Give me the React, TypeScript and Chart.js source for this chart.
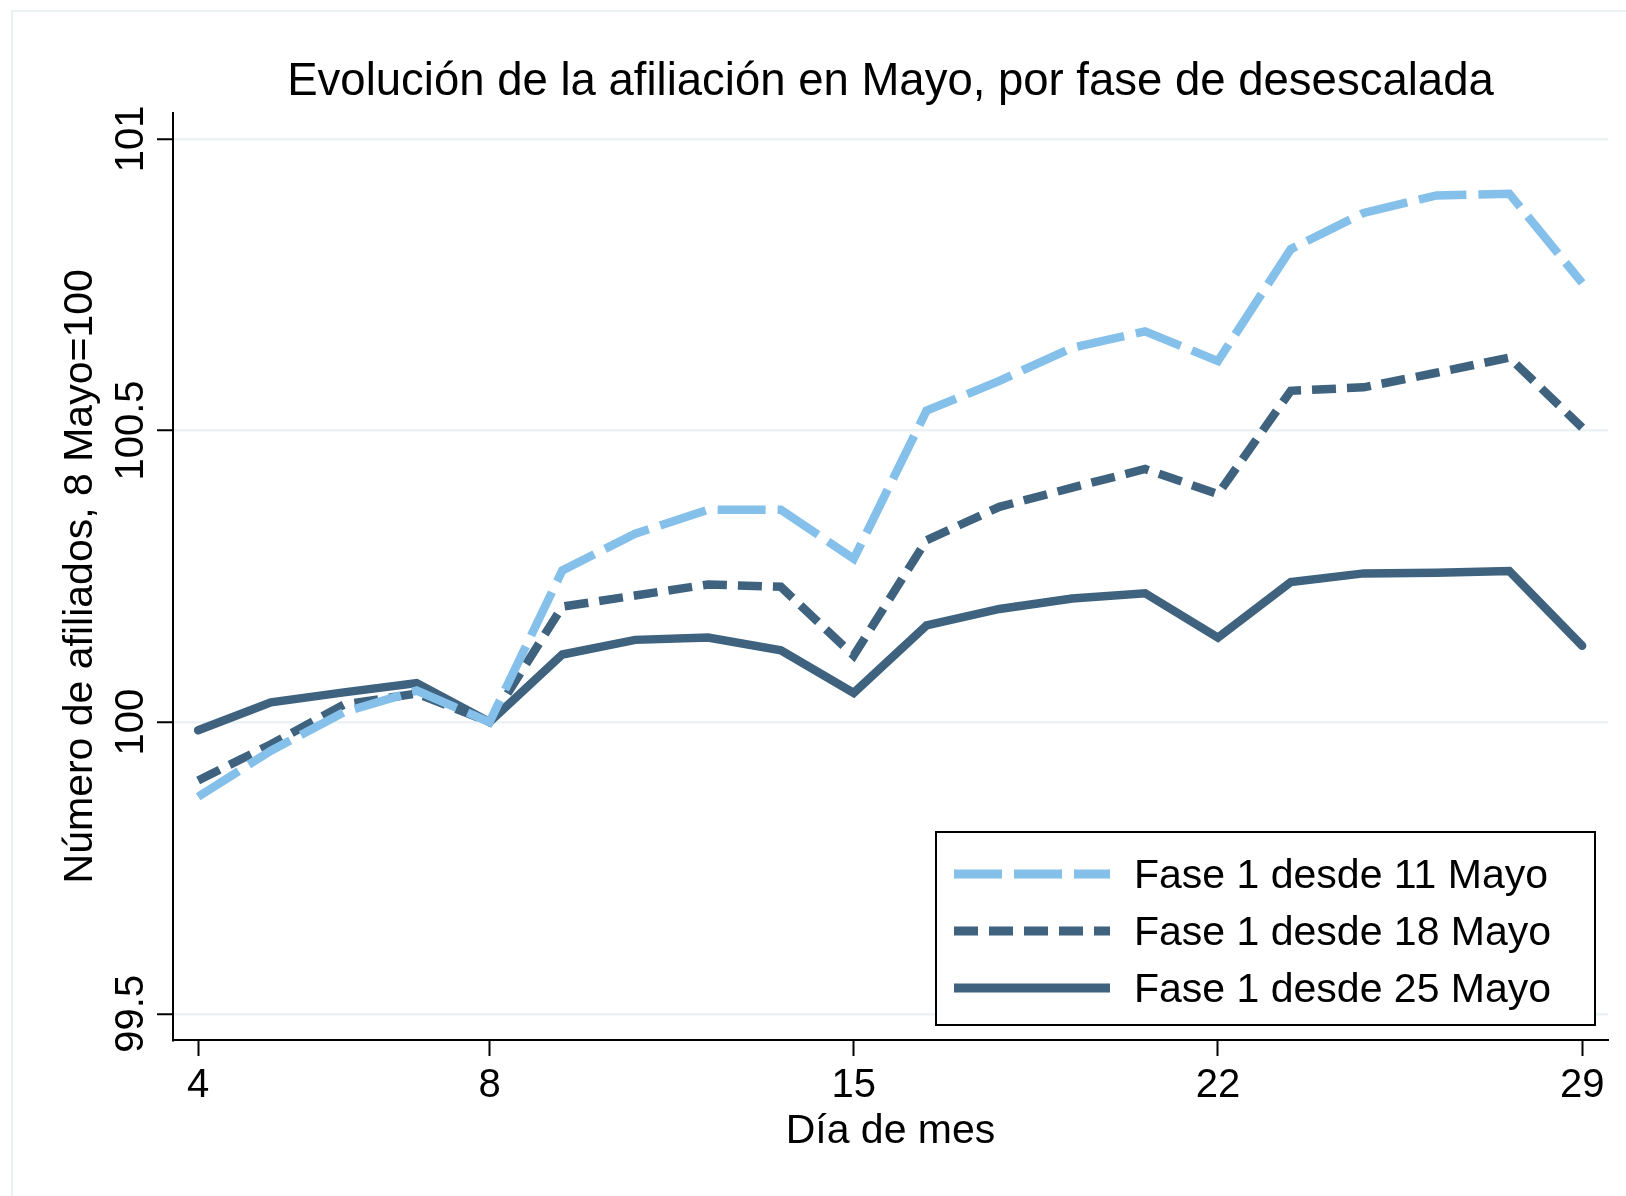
import React, { useEffect, useRef } from "react";
import { Chart, registerables } from "chart.js";

Chart.register(...registerables);

// ---- Data ----
const dayLabels = ["4", "5", "6", "7", "8", "11", "12", "13", "14", "15", "18", "19", "20", "21", "22", "25", "26", "27", "28", "29"];
const xTickIndices = [0, 4, 9, 14, 19];
const yTickValues = [99.5, 100, 100.5, 101];

const fase11 = [99.872, 99.951, 100.017, 100.054, 100.0, 100.26, 100.323, 100.364, 100.364, 100.28, 100.534, 100.585, 100.642, 100.67, 100.619, 100.811, 100.873, 100.903, 100.906, 100.753];
const fase18 = [99.9, 99.962, 100.03, 100.049, 100.0, 100.198, 100.217, 100.236, 100.232, 100.114, 100.312, 100.369, 100.402, 100.434, 100.391, 100.568, 100.574, 100.599, 100.625, 100.505];
const fase25 = [99.986, 100.034, 100.051, 100.067, 100.0, 100.116, 100.141, 100.145, 100.123, 100.05, 100.166, 100.194, 100.212, 100.221, 100.145, 100.24, 100.255, 100.256, 100.259, 100.131];

const seriesLabels = ["Fase 1 desde 11 Mayo", "Fase 1 desde 18 Mayo", "Fase 1 desde 25 Mayo"];

const titleText = "Evolución de la afiliación en Mayo, por fase de desescalada";
const xTitle = "Día de mes";
const yTitle = "Número de afiliados, 8 Mayo=100";

const FONT = "'Liberation Sans', Arial, Helvetica, sans-serif";
const LIGHT = "#84C0EA";
const DARK = "#3F637F";
const GRID = "#EAF2F3";

const framePlugin = {
  id: "frame",
  beforeDraw(chart: any) {
    const { ctx, width, height } = chart;
    ctx.save();
    ctx.fillStyle = "#ffffff";
    ctx.fillRect(0, 0, width, height);
    ctx.strokeStyle = GRID;
    ctx.lineWidth = 2;
    ctx.beginPath();
    ctx.moveTo(12, height);
    ctx.lineTo(12, 11);
    ctx.lineTo(width, 11);
    ctx.stroke();
    ctx.restore();
  },
};

const yLabelPlugin = {
  id: "yLabels",
  afterDraw(chart: any) {
    const { ctx } = chart;
    const scale = chart.scales.y;
    ctx.save();
    ctx.fillStyle = "#000";
    ctx.font = `40px ${FONT}`;
    ctx.textAlign = "center";
    ctx.textBaseline = "alphabetic";
    scale.ticks.forEach((t: any) => {
      const y = scale.getPixelForValue(t.value);
      ctx.save();
      ctx.translate(143, y);
      ctx.rotate(-Math.PI / 2);
      ctx.fillText(String(t.value), 0, 0);
      ctx.restore();
    });
    ctx.restore();
  },
};

const legendPlugin = {
  id: "boxLegend",
  afterDraw(chart: any) {
    const { ctx } = chart;
    const bx = 936, by = 832, bw = 659, bh = 193;
    ctx.save();
    ctx.fillStyle = "#fff";
    ctx.fillRect(bx, by, bw, bh);
    ctx.strokeStyle = "#000";
    ctx.lineWidth = 2;
    ctx.strokeRect(bx, by, bw, bh);
    const rows = [874, 931, 988];
    chart.data.datasets.forEach((ds: any, i: number) => {
      const y = rows[i];
      ctx.save();
      ctx.strokeStyle = ds.borderColor;
      ctx.lineWidth = 9;
      ctx.lineCap = "butt";
      ctx.setLineDash(ds.borderDash || []);
      ctx.beginPath();
      ctx.moveTo(954, y);
      ctx.lineTo(1110, y);
      ctx.stroke();
      ctx.restore();
      ctx.fillStyle = "#000";
      ctx.font = `41px ${FONT}`;
      ctx.textAlign = "left";
      ctx.textBaseline = "middle";
      ctx.fillText(ds.label, 1134, y + 3);
    });
    ctx.restore();
  },
};

export default function App() {
  const ref = useRef<HTMLCanvasElement | null>(null);

  useEffect(() => {
    if (!ref.current) return;
    const xs = dayLabels.map((_, i) => i);
    const mk = (vals: number[]) => vals.map((v, i) => ({ x: xs[i], y: v }));
    const chart = new Chart(ref.current, {
      type: "line",
      data: {
        datasets: [
          {
            label: seriesLabels[0],
            data: mk(fase11),
            borderColor: LIGHT,
            borderWidth: 8.5,
            borderDash: [48, 12],
            borderCapStyle: "butt",
            borderJoinStyle: "miter",
            pointRadius: 0,
            tension: 0,
          },
          {
            label: seriesLabels[1],
            data: mk(fase18),
            borderColor: DARK,
            borderWidth: 8.5,
            borderDash: [24, 11],
            borderCapStyle: "butt",
            borderJoinStyle: "miter",
            pointRadius: 0,
            tension: 0,
          },
          {
            label: seriesLabels[2],
            data: mk(fase25),
            borderColor: DARK,
            borderWidth: 8.5,
            borderCapStyle: "round",
            borderJoinStyle: "miter",
            pointRadius: 0,
            tension: 0,
          },
        ],
      },
      options: {
        animation: false,
        responsive: true,
        maintainAspectRatio: false,
        layout: { padding: { left: 0, right: 18, top: 0, bottom: 0 } },
        plugins: {
          legend: { display: false },
          tooltip: { enabled: false },
          title: {
            display: true,
            text: titleText,
            fullSize: false,
            color: "#000",
            font: { family: FONT, size: 45.5, weight: "normal" },
            padding: { top: 55, bottom: 3 },
          },
        },
        scales: {
          x: {
            type: "linear",
            min: -0.345,
            max: 19.355,
            afterBuildTicks: (scale: any) => {
              scale.ticks = xTickIndices.map((v) => ({ value: v }));
            },
            afterFit: (scale: any) => {
              scale.height = 156;
            },
            ticks: {
              color: "#000",
              font: { family: FONT, size: 40 },
              padding: 6,
              maxRotation: 0,
              minRotation: 0,
              autoSkip: false,
              callback: (v: any) => dayLabels[Math.round(Number(v))] ?? "",
            },
            grid: {
              drawOnChartArea: false,
              drawTicks: true,
              tickLength: 16,
              tickColor: "#000",
              tickWidth: 2,
            },
            border: { display: true, color: "#000", width: 2 },
            title: {
              display: true,
              text: xTitle,
              color: "#000",
              font: { family: FONT, size: 41 },
              padding: { top: 0, bottom: 40 },
            },
          },
          y: {
            type: "linear",
            min: 99.455,
            max: 101.045,
            afterBuildTicks: (scale: any) => {
              scale.ticks = yTickValues.map((v) => ({ value: v }));
            },
            afterFit: (scale: any) => {
              scale.width = 173;
            },
            ticks: { display: false },
            grid: {
              color: GRID,
              lineWidth: 2.5,
              drawTicks: true,
              tickLength: 16,
              tickColor: "#000",
              tickWidth: 2,
            },
            border: { display: true, color: "#000", width: 2 },
            title: {
              display: true,
              text: yTitle,
              color: "#000",
              font: { family: FONT, size: 41 },
              padding: { top: 56, bottom: 0 },
            },
          },
        },
      },
      plugins: [framePlugin, yLabelPlugin, legendPlugin],
    } as any);
    return () => chart.destroy();
  }, []);

  return (
    <div style={{ position: "absolute", left: 0, top: 0, width: 1626, height: 1196 }}>
      <canvas ref={ref} />
    </div>
  );
}
